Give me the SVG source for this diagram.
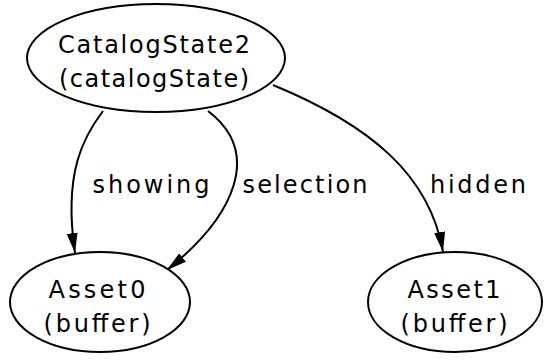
<svg xmlns="http://www.w3.org/2000/svg" width="545" height="361" viewBox="0 0 545 361">
  <style>
    .node ellipse { fill: #ffffff; stroke: #000000; stroke-width: 2; }
    .lbl { font-family: "DejaVu Sans", "Liberation Sans", sans-serif; font-size: 24px; fill: #000000; text-anchor: middle; }
    .edge { fill: none; stroke: #000000; stroke-width: 2; }
  </style>
  <defs>
    <marker id="arrow" viewBox="0 0 20 11" refX="20" refY="5.5" markerWidth="20" markerHeight="11" orient="auto" markerUnits="userSpaceOnUse">
      <path d="M0,0 L20,5.5 L0,11 z" fill="#000000"/>
    </marker>
  </defs>

  <g id="edges">
    <path class="edge" d="M103,111 C84,136 63,172 75,253" marker-end="url(#arrow)"/>
    <text class="lbl" x="151" y="193" textLength="117" lengthAdjust="spacing">showing</text>
    <path class="edge" d="M208,111 C262,152 236,215 167,270" marker-end="url(#arrow)"/>
    <text class="lbl" x="305" y="193" textLength="125" lengthAdjust="spacing">selection</text>
    <path class="edge" d="M273,85 C370,125 430,175 443,252" marker-end="url(#arrow)"/>
    <text class="lbl" x="478" y="193" textLength="96" lengthAdjust="spacing">hidden</text>
  </g>

  <g id="CatalogState2" class="node">
    <ellipse cx="156" cy="58" rx="129" ry="54"/>
    <text class="lbl" x="154" y="53" textLength="192" lengthAdjust="spacing">CatalogState2</text>
    <text class="lbl" x="154" y="87" textLength="190" lengthAdjust="spacing">(catalogState)</text>
  </g>

  <g id="Asset0" class="node">
    <ellipse cx="100" cy="302" rx="90" ry="50"/>
    <text class="lbl" x="97" y="298" textLength="97" lengthAdjust="spacing">Asset0</text>
    <text class="lbl" x="97" y="332" textLength="107" lengthAdjust="spacing">(buffer)</text>
  </g>

  <g id="Asset1" class="node">
    <ellipse cx="455" cy="302" rx="87" ry="50"/>
    <text class="lbl" x="454" y="298" textLength="93" lengthAdjust="spacing">Asset1</text>
    <text class="lbl" x="454" y="332" textLength="107" lengthAdjust="spacing">(buffer)</text>
  </g>
</svg>
